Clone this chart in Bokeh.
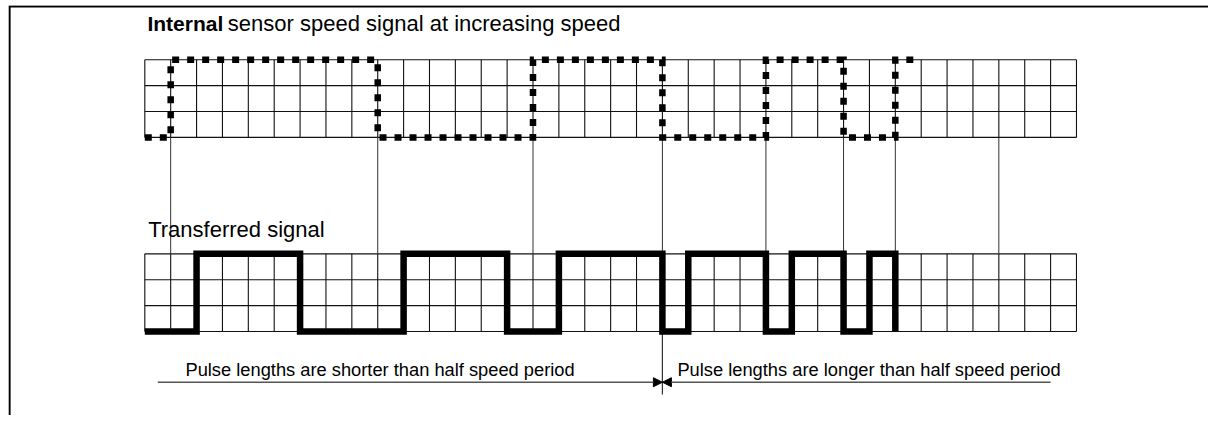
import numpy as np
from bokeh.plotting import figure
from bokeh.models import Range1d, Label, Arrow, NormalHead
from bokeh.embed import file_html
from bokeh.resources import INLINE

# ---------------- data ----------------
n_cols = 36                     # grid columns (time slots)
n_rows = 3                      # grid rows per signal
bottom_grid_base = 0.0          # lower grid (transferred signal) bottom level
top_grid_base = 7.5             # upper grid (internal signal) bottom level

# internal sensor speed signal: edges (in grid columns) and level of each segment
internal_edges = [0, 1, 9, 15, 20, 24, 27, 29, 30]
internal_levels = [0, 1, 0, 1, 0, 1, 0, 1]

# transferred signal: edges and segment levels (ends with a falling edge)
transferred_edges = [0, 2, 6, 10, 14, 16, 20, 21, 24, 25, 27, 28, 29]
transferred_levels = [0, 1, 0, 1, 0, 1, 0, 1, 0, 1, 0, 1]

# speed edges carried down from internal to transferred signal
speed_marks = [1, 9, 15, 20, 24, 27, 29, 33]
boundary_col = 20               # where pulse-length behaviour changes

title_bold = "Internal"
title_rest = "sensor speed signal at increasing speed"
lower_title = "Transferred signal"
left_note = "Pulse lengths are shorter than half speed period"
right_note = "Pulse lengths are longer than half speed period"

# ---------------- figure ----------------
U = 25.88                       # px per column
W, H = 1200, 410
x0 = -136.3 / U
y_top = 326.0 / U
p = figure(width=W, height=H, output_backend="svg", toolbar_location=None,
           x_range=Range1d(x0, x0 + W / U), y_range=Range1d(y_top - H / U, y_top),
           min_border=0, outline_line_color=None)
p.margin = (5, 0, 0, 8)
p.axis.visible = False
p.grid.visible = False
p.background_fill_color = "white"
p.border_fill_color = "white"

# border (left and top edges of the surrounding frame)
bx = x0 + 1.0 / U
p.line([bx, bx, x0 + (W + 10) / U], [y_top - (H + 10) / U, y_top - 0.9 / U, y_top - 0.9 / U],
       line_color="black", line_width=2.2, line_join="miter", line_cap="butt")

# grids
grid_col = "#111111"
for base in (bottom_grid_base, top_grid_base):
    cols = np.arange(n_cols + 1)
    p.segment(x0=cols, y0=[base] * len(cols), x1=cols, y1=[base + n_rows] * len(cols),
              line_color=grid_col, line_width=1.1)
    rows = np.arange(n_rows + 1) + base
    p.segment(x0=[0] * len(rows), y0=rows, x1=[n_cols] * len(rows), y1=rows,
              line_color=grid_col, line_width=1.1)

# connecting lines between the two signals
p.segment(x0=speed_marks, y0=[top_grid_base] * len(speed_marks),
          x1=speed_marks, y1=[bottom_grid_base + n_rows] * len(speed_marks),
          line_color="#333333", line_width=1)
p.segment(x0=[boundary_col], y0=[bottom_grid_base], x1=[boundary_col], y1=[-2.43],
          line_color="#333333", line_width=1.2)

def step_path(edges, levels, base, final_level=None):
    xs, ys = [], []
    for i, lv in enumerate(levels):
        xs += [edges[i], edges[i + 1]]
        ys += [base + lv * n_rows, base + lv * n_rows]
    if final_level is not None:
        xs.append(edges[-1])
        ys.append(base + final_level * n_rows)
    return xs, ys

ix, iy = step_path(internal_edges, internal_levels, top_grid_base)
p.line(ix, iy, line_color="black", line_width=6.5, line_dash="7 8",
       line_cap="butt", line_join="miter")

tx, ty = step_path(transferred_edges, transferred_levels, bottom_grid_base, final_level=0)
p.line(tx, ty, line_color="black", line_width=6.5, line_cap="butt", line_join="miter")

# dimension arrows
dim_y = -1.96
p.add_layout(Arrow(end=NormalHead(size=9, fill_color="black", line_color="black"),
                   x_start=0.5, y_start=dim_y, x_end=boundary_col, y_end=dim_y,
                   line_color="#555555", line_width=1.6))
p.add_layout(Arrow(end=NormalHead(size=9, fill_color="black", line_color="black"),
                   x_start=35.0, y_start=dim_y, x_end=boundary_col, y_end=dim_y,
                   line_color="#555555", line_width=1.6))

font = "Liberation Sans"
dy = 7.0 / U   # baseline correction
p.add_layout(Label(x=0.1, y=11.63 + dy, text=title_bold, text_font=font, text_font_size="21px",
                   text_font_style="bold", text_baseline="alphabetic", text_color="black"))
p.add_layout(Label(x=3.21, y=11.63 + dy, text=title_rest, text_font=font, text_font_size="22px",
                   text_baseline="alphabetic", text_color="black"))
p.add_layout(Label(x=0.13, y=3.66 + dy, text=lower_title, text_font=font, text_font_size="22px",
                   text_baseline="alphabetic", text_color="black"))
p.add_layout(Label(x=1.57, y=-1.74 + dy, text=left_note, text_font=font, text_font_size="18.3px",
                   text_baseline="alphabetic", text_color="black"))
p.add_layout(Label(x=20.58, y=-1.74 + dy, text=right_note, text_font=font, text_font_size="18.3px",
                   text_baseline="alphabetic", text_color="black"))

open("out.html", "w").write(file_html(p, INLINE))
